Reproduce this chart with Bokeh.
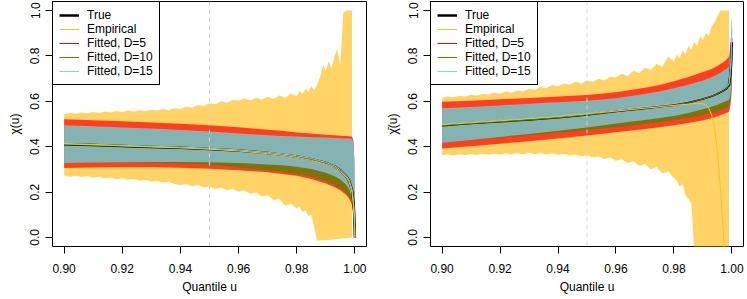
from bokeh.plotting import figure
from bokeh.layouts import row
from bokeh.models import Range1d, FixedTicker, NumeralTickFormatter, Span, Legend, LegendItem
from bokeh.embed import file_html
from bokeh.resources import INLINE

# ---------------- data ----------------
x_ticks = [0.90, 0.92, 0.94, 0.96, 0.98, 1.00]
y_ticks = [0.0, 0.2, 0.4, 0.6, 0.8, 1.0]

# grid of the empirical (bootstrap) band
u_emp = [0.900, 0.902, 0.904, 0.906, 0.908, 0.910, 0.912, 0.914, 0.916, 0.918,
         0.920, 0.922, 0.924, 0.926, 0.928, 0.930, 0.932, 0.934, 0.936, 0.938,
         0.940, 0.942, 0.944, 0.946, 0.948, 0.950, 0.952, 0.954, 0.956, 0.958,
         0.960, 0.962, 0.964, 0.966, 0.968, 0.970, 0.972, 0.974, 0.976, 0.978,
         0.980, 0.981, 0.982, 0.983, 0.984, 0.985, 0.986, 0.987, 0.988, 0.989,
         0.990, 0.991, 0.992, 0.993, 0.994, 0.995, 0.996, 0.997, 0.998, 0.999]

# grid of the fitted curves / bands
u_fit = [0.90, 0.91, 0.92, 0.93, 0.94, 0.95, 0.96, 0.97, 0.975, 0.98,
         0.985, 0.99, 0.993, 0.995, 0.997, 0.998, 0.999, 0.9995, 0.9998, 1.0]

# ---- left panel: chi(u) ----
chi_emp_up = [.544, .549, .545, .551, .547, .553, .549, .555, .551, .557,
              .553, .559, .555, .561, .557, .563, .559, .566, .561, .569,
              .566, .576, .572, .584, .579, .592, .587, .600, .594, .606,
              .602, .612, .604, .616, .607, .620, .610, .626, .614, .634,
              .622, .645, .632, .655, .640, .668, .650, .672, .705, .760,
              .735, .775, .745, .800, .830, .755, .990, 1.0, 1.0, 1.0]
chi_emp_lo = [.273, .268, .272, .266, .270, .263, .267, .260, .264, .257,
              .261, .254, .258, .250, .254, .246, .250, .241, .245, .236,
              .231, .236, .226, .231, .220, .225, .214, .219, .208, .214,
              .202, .208, .192, .198, .180, .186, .165, .170, .140, .150,
              .128, .136, .112, .120, .095, .100, .044, -.015, -.014, -.013,
              -.012, -.011, -.010, -.008, -.007, -.006, -.005, -.004, -.002, -.001]

chi_true = [.411, .407, .403, .399, .395, .390, .383, .372, .365, .357,
            .345, .328, .312, .296, .270, .250, .210, .160, .100, 0.0]
chi_emp = [.413, .409, .404, .399, .395, .389, .381, .369, .362, .353,
           .340, .323, .308, .291, .266, .246, .200, .140, .080, 0.0]
chi_fit5 = [.412, .408, .404, .400, .396, .391, .384, .373, .366, .358,
            .346, .329, .313, .297, .271, .251, .211, .160, .100, 0.0]
chi_fit10 = [.410, .406, .402, .398, .394, .389, .382, .371, .364, .356,
             .344, .327, .311, .295, .269, .249, .209, .158, .098, 0.0]
chi_fit15 = [.414, .410, .406, .402, .398, .393, .386, .375, .368, .360,
             .348, .331, .315, .299, .273, .253, .213, .162, .102, 0.0]

chi_red_up = [.521, .517, .512, .507, .501, .495, .486, .475, .470, .463,
              .458, .453, .450, .448, .447, .446, .445, .430, .350, 0.0]
chi_red_lo = [.306, .308, .309, .309, .307, .303, .296, .287, .280, .272,
              .258, .238, .222, .208, .188, .172, .145, .105, .055, 0.0]
chi_green_up = [.491, .486, .481, .476, .470, .463, .454, .446, .443, .441,
                .438, .436, .434, .433, .432, .432, .431, .416, .336, 0.0]
chi_green_lo = [.328, .330, .330, .329, .326, .320, .308, .296, .289, .281,
                .268, .248, .232, .218, .197, .180, .150, .110, .060, 0.0]
chi_blue_up = [.495, .490, .485, .480, .474, .467, .458, .450, .447, .445,
               .442, .440, .438, .437, .436, .436, .435, .420, .340, 0.0]
chi_blue_lo = [.328, .330, .331, .332, .332, .331, .328, .322, .318, .312,
               .302, .285, .270, .255, .232, .212, .175, .130, .070, 0.0]

# ---- right panel: chi-bar(u) ----
chib_emp_up = [.616, .621, .618, .625, .621, .629, .625, .633, .629, .638,
               .633, .643, .638, .648, .643, .655, .650, .664, .658, .672,
               .666, .679, .673, .686, .679, .692, .685, .700, .692, .708,
               .705, .722, .712, .735, .724, .748, .738, .765, .752, .795,
               .775, .805, .790, .825, .808, .845, .828, .862, .845, .886,
               .870, .900, .890, .930, .945, .975, 1.0, 1.0, 1.0, 1.0]
chib_emp_lo = [.362, .366, .361, .367, .362, .368, .363, .369, .364, .370,
               .365, .371, .366, .372, .367, .373, .367, .372, .366, .371,
               .364, .369, .361, .366, .357, .362, .352, .357, .346, .352,
               .338, .345, .328, .336, .315, .325, .300, .310, .282, .292,
               .262, .250, .225, .236, .185, .170, .150, -.06, -.06, -.06,
               -.06, -.06, -.06, -.06, -.06, -.06, -.06, -.06, -.06, -.06]

u_emp_line_r = [0.90, 0.92, 0.94, 0.96, 0.97, 0.98, 0.985, 0.988, 0.990, 0.991,
                0.992, 0.993, 0.994, 0.995, 0.996, 0.997, 0.998]
chib_emp = [.497, .514, .532, .557, .570, .582, .588, .590, .589, .585,
            .570, .540, .480, .380, .220, .030, -.200]

chib_true = [.495, .504, .512, .520, .530, .542, .557, .571, .578, .585,
             .596, .612, .624, .635, .648, .657, .672, .720, .780, .860]
chib_fit5 = [.498, .507, .515, .523, .533, .545, .560, .574, .581, .588,
             .599, .615, .627, .638, .651, .660, .675, .730, .800, .880]
chib_fit10 = [.493, .502, .510, .518, .528, .540, .555, .569, .576, .583,
              .594, .610, .622, .633, .646, .655, .670, .715, .770, .840]
chib_fit15 = [.500, .509, .517, .525, .535, .547, .562, .576, .583, .590,
              .601, .617, .629, .640, .653, .662, .677, .740, .820, .920]

chib_red_up = [.598, .603, .609, .615, .621, .628, .640, .660, .672, .689,
               .707, .729, .743, .756, .772, .782, .796, .850, .920, .970]
chib_red_lo = [.392, .402, .413, .424, .436, .449, .464, .478, .486, .495,
               .504, .516, .525, .533, .544, .549, .554, .580, .620, .680]
chib_green_up = [.566, .572, .579, .586, .593, .600, .610, .629, .640, .655,
                 .670, .689, .703, .715, .731, .740, .750, .800, .870, .930]
chib_green_lo = [.417, .428, .439, .450, .461, .472, .486, .500, .508, .517,
                 .527, .539, .547, .555, .566, .571, .576, .600, .640, .700]
chib_blue_up = [.569, .575, .582, .589, .596, .603, .613, .632, .643, .658,
                .673, .692, .706, .718, .734, .743, .753, .820, .900, .980]
chib_blue_lo = [.417, .430, .443, .456, .470, .485, .502, .518, .526, .535,
                .548, .565, .576, .585, .596, .601, .606, .630, .680, .750]

legend_labels = ["True", "Empirical", "Fitted, D=5", "Fitted, D=10", "Fitted, D=15"]

# ---------------- styling ----------------
FONT = "Liberation Sans"
YELLOW = "#FFC125"
RED = "#FF0000"
GREEN = "#458B00"
BLUE = "#87CEFA"


def make_panel(ylabel, emp_up, emp_lo, emp_u, emp_line, red_up, red_lo, green_up, green_lo,
               blue_up, blue_lo, true, f5, f10, f15, frame_w, border_l, border_r):
    p = figure(frame_width=frame_w, frame_height=245,
               x_range=Range1d(0.896, 1.004), y_range=Range1d(-0.04, 1.04),
               output_backend="svg", toolbar_location=None,
               min_border_left=border_l, min_border_right=border_r,
               min_border_top=1, min_border_bottom=0)
    p.grid.visible = False
    p.outline_line_color = "black"
    p.outline_line_width = 1
    p.outline_line_alpha = 1.0
    p.background_fill_color = "white"
    p.border_fill_color = "white"

    p.varea(x=u_emp, y1=emp_lo, y2=emp_up, fill_color=YELLOW, fill_alpha=0.7)
    p.varea(x=u_fit, y1=red_lo, y2=red_up, fill_color=RED, fill_alpha=0.7)
    p.varea(x=u_fit, y1=green_lo, y2=green_up, fill_color=GREEN, fill_alpha=0.7)
    p.varea(x=u_fit, y1=blue_lo, y2=blue_up, fill_color=BLUE, fill_alpha=0.7)

    p.add_layout(Span(location=0.95, dimension="height", line_color="#D3D3D3",
                      line_dash="4 4", line_width=1))

    rt = p.line(u_fit, true, line_color="black", line_width=2.5)
    r5 = p.line(u_fit, f5, line_color=RED, line_width=1)
    r10 = p.line(u_fit, f10, line_color=GREEN, line_width=1)
    r15 = p.line(u_fit, f15, line_color=BLUE, line_width=1)
    re = p.line(emp_u, emp_line, line_color=YELLOW, line_width=1)

    legend = Legend(items=[LegendItem(label=legend_labels[0], renderers=[rt]),
                           LegendItem(label=legend_labels[1], renderers=[re]),
                           LegendItem(label=legend_labels[2], renderers=[r5]),
                           LegendItem(label=legend_labels[3], renderers=[r10]),
                           LegendItem(label=legend_labels[4], renderers=[r15])],
                    location="top_left", margin=0, padding=6, spacing=0,
                    label_text_font=FONT, label_text_font_size="12px",
                    label_height=12, label_width=57, glyph_height=12, glyph_width=20,
                    label_standoff=8, border_line_color="black", border_line_width=1,
                    border_line_alpha=1.0, background_fill_color="white",
                    background_fill_alpha=1.0, label_text_color="black")
    p.add_layout(legend)

    xa = p.xaxis[0]
    ya = p.yaxis[0]
    xa.ticker = FixedTicker(ticks=x_ticks)
    xa.formatter = NumeralTickFormatter(format="0.00")
    ya.ticker = FixedTicker(ticks=y_ticks)
    ya.formatter = NumeralTickFormatter(format="0.0")
    ya.major_label_orientation = "vertical"
    xa.axis_label = "Quantile u"
    ya.axis_label = ylabel
    for ax in (xa, ya):
        ax.axis_line_color = None
        ax.major_tick_line_color = "black"
        ax.major_tick_out = 7
        ax.major_tick_in = 0
        ax.minor_tick_line_color = None
        ax.major_label_text_font = FONT
        ax.major_label_text_font_size = "12px"
        ax.major_label_text_color = "black"
        ax.axis_label_text_font = FONT
        ax.axis_label_text_font_size = "12px"
        ax.axis_label_text_font_style = "normal"
        ax.axis_label_text_color = "black"
    xa.major_label_standoff = 10
    xa.axis_label_standoff = 4
    ya.major_label_standoff = 6
    ya.axis_label_standoff = 6
    return p


p1 = make_panel("\u03c7(u)", chi_emp_up, chi_emp_lo, u_fit, chi_emp,
                chi_red_up, chi_red_lo, chi_green_up, chi_green_lo,
                chi_blue_up, chi_blue_lo, chi_true, chi_fit5, chi_fit10, chi_fit15,
                314, 52, 16)
p2 = make_panel("\u03c7\u0304(u)", chib_emp_up, chib_emp_lo, u_emp_line_r, chib_emp,
                chib_red_up, chib_red_lo, chib_green_up, chib_green_lo,
                chib_blue_up, chib_blue_lo, chib_true, chib_fit5, chib_fit10, chib_fit15,
                313, 44, 8)

layout = row(p1, p2)

open("out.html", "w").write(file_html(layout, INLINE))
